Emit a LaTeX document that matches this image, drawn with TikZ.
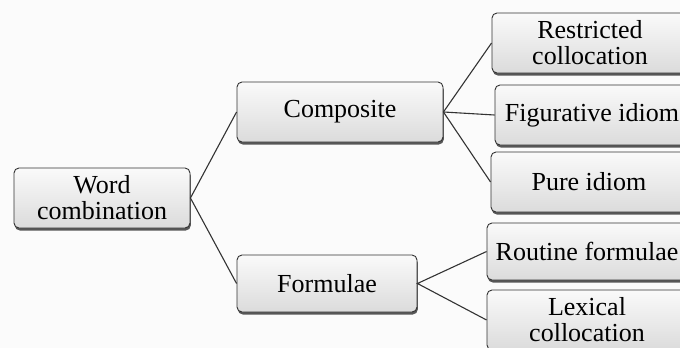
\documentclass[tikz,border=0pt]{standalone}
\usepackage{fontspec}
\setmainfont{Liberation Serif}
\usetikzlibrary{shadows}
\tikzset{
  box/.style={draw=gray!40!black, line width=0.9pt, rounded corners=5pt,
    top color=gray!4, bottom color=gray!28,
    drop shadow={shadow xshift=0.8pt, shadow yshift=-2.5pt, fill=black, opacity=0.65},
    align=center, font=\fontsize{26}{26}\selectfont, inner sep=0pt},
  link/.style={draw=black!80, line width=1.1pt}
}
\begin{document}
\begin{tikzpicture}[x=1pt,y=-1pt]
\useasboundingbox (0,0) rectangle (680,348);
\clip (0,0) rectangle (680,348);
\fill[gray!3] (0,0) rectangle (680,348);
\node[box, minimum width=176pt, minimum height=60pt] (W) at (102,198) {Word\\combination};
\node[box, minimum width=206pt, minimum height=60pt] (C) at (340,112) {Composite};
\node[box, minimum width=180pt, minimum height=57pt] (F) at (327,283.5) {Formulae};
\node[box, minimum width=196pt, minimum height=60pt] (R1) at (590,43) {Restricted\\collocation};
\node[box, minimum width=194pt, minimum height=60pt] (R2) at (592,115) {Figurative idiom};
\node[box, minimum width=196pt, minimum height=60pt] (R3) at (589,182) {Pure idiom};
\node[box, minimum width=200pt, minimum height=57pt] (R4) at (587,251.5) {Routine formulae};
\node[box, minimum width=200pt, minimum height=60pt] (R5) at (587,320) {Lexical\\collocation};
\draw[link] (C.west) -- (W.east) -- (F.west);
\draw[link] (R1.west) -- (C.east) -- (R3.west);
\draw[link] (C.east) -- (R2.west);
\draw[link] (R4.west) -- (F.east) -- (R5.west);
\end{tikzpicture}
\end{document}
